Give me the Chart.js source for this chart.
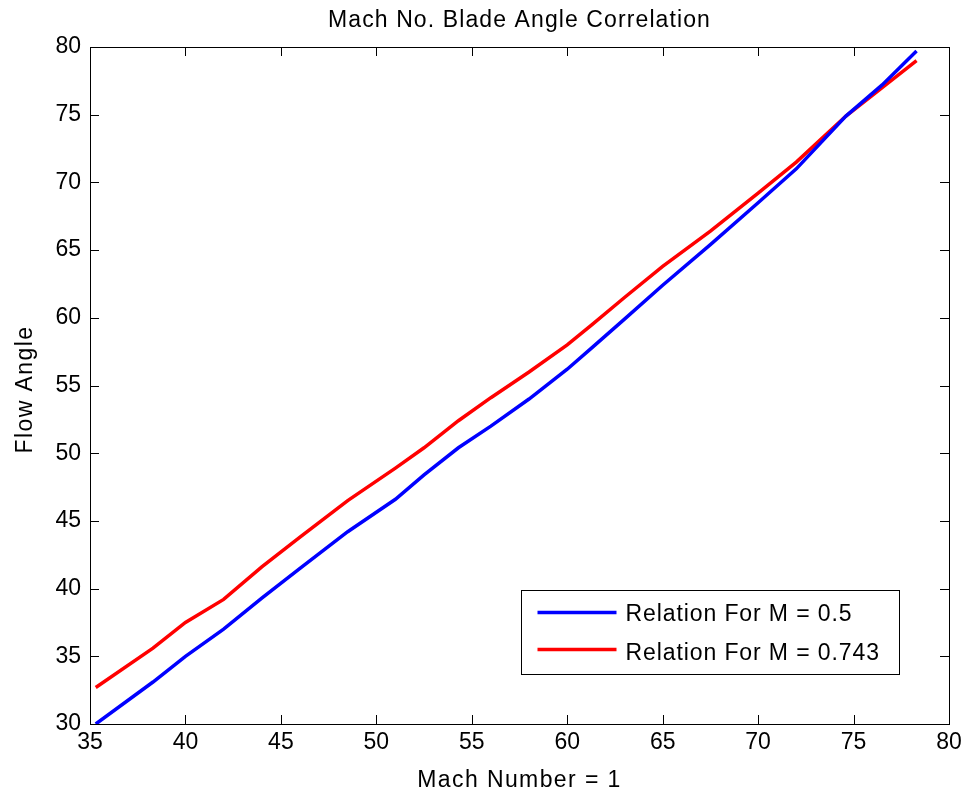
<!DOCTYPE html>
<html>
<head>
<meta charset="utf-8">
<script src="https://cdn.jsdelivr.net/npm/chart.js@4.4.1/dist/chart.umd.min.js"></script>
<style>
  html, body { margin: 0; padding: 0; background: #fff; }
  #wrap { width: 963px; height: 793px; }
</style>
</head>
<body>
<div id="wrap"><canvas id="mycanvas" width="963" height="793"></canvas></div>
<script>
// values
var machX = [35.3, 38.3, 40, 42, 44, 46, 48.5, 51, 52.5, 54.3, 56, 58, 60, 61.3, 63, 65, 67.5, 70, 72, 74.6, 76.5, 78.3];
var angleM05 = [30.0, 33.1, 35.0, 37.0, 39.3, 41.5, 44.2, 46.6, 48.4, 50.4, 52.0, 54.0, 56.2, 57.8, 59.9, 62.4, 65.4, 68.5, 71.0, 74.9, 77.2, 79.7];
var angleM0743 = [32.7, 35.6, 37.5, 39.2, 41.6, 43.8, 46.5, 48.9, 50.4, 52.4, 54.1, 56.0, 58.0, 59.5, 61.5, 63.8, 66.4, 69.2, 71.5, 74.9, 77.0, 79.0];
var xTicks = [35, 40, 45, 50, 55, 60, 65, 70, 75, 80];
var yTicks = [30, 35, 40, 45, 50, 55, 60, 65, 70, 75, 80];

var FONT = "'Liberation Sans', Arial, sans-serif";

function pts(ys) {
  var out = [];
  for (var i = 0; i < machX.length; i++) out.push({x: machX[i], y: ys[i]});
  return out;
}

function spacedText(ctx, txt, x, y, spacing) {
  if ('letterSpacing' in ctx) {
    ctx.letterSpacing = spacing + 'px';
    ctx.fillText(txt, x, y);
    ctx.letterSpacing = '0px';
  } else {
    ctx.fillText(txt, x, y);
  }
}

// box, inner tick marks, titles and legend drawn the matlab way
var matlabLook = {
  id: 'matlabLook',
  afterDatasetsDraw: function(chart) {
    var ctx = chart.ctx, a = chart.chartArea;
    var xs = chart.scales.x, ys = chart.scales.y;
    ctx.save();
    ctx.strokeStyle = '#000';
    ctx.lineWidth = 1;
    ctx.beginPath();
    xTicks.forEach(function(v) {
      var px = Math.round(xs.getPixelForValue(v)) + 0.5;
      ctx.moveTo(px, a.bottom); ctx.lineTo(px, a.bottom - 9);
      ctx.moveTo(px, a.top); ctx.lineTo(px, a.top + 9);
    });
    yTicks.forEach(function(v) {
      var py = Math.round(ys.getPixelForValue(v)) + 0.5;
      ctx.moveTo(a.left, py); ctx.lineTo(a.left + 9, py);
      ctx.moveTo(a.right, py); ctx.lineTo(a.right - 9, py);
    });
    ctx.stroke();
    ctx.strokeRect(Math.round(a.left) + 0.5, Math.round(a.top) + 0.5,
                   Math.round(a.right - a.left), Math.round(a.bottom - a.top));

    ctx.fillStyle = '#000';
    ctx.textAlign = 'center';
    ctx.textBaseline = 'alphabetic';
    ctx.font = '23px ' + FONT;
    // title
    spacedText(ctx, 'Mach No. Blade Angle Correlation', (a.left + a.right) / 2, 27, 1.1);
    // x axis title
    spacedText(ctx, 'Mach Number = 1', (a.left + a.right) / 2, 787, 1.4);
    // y axis title
    ctx.save();
    ctx.translate(32, (a.top + a.bottom) / 2 + 4);
    ctx.rotate(-Math.PI / 2);
    spacedText(ctx, 'Flow Angle', 0, 0, 1.4);
    ctx.restore();

    // legend
    var bx = 521.5, by = 590.5, bw = 378, bh = 84;
    ctx.fillStyle = '#fff';
    ctx.fillRect(bx, by, bw, bh);
    ctx.strokeStyle = '#000';
    ctx.lineWidth = 1;
    ctx.strokeRect(bx, by, bw, bh);
    ctx.textAlign = 'left';
    chart.data.datasets.forEach(function(ds, i) {
      var ly = by + 22 + i * 37;
      ctx.strokeStyle = ds.borderColor;
      ctx.lineWidth = 3.5;
      ctx.beginPath();
      ctx.moveTo(bx + 16, ly); ctx.lineTo(bx + 95, ly);
      ctx.stroke();
      ctx.fillStyle = '#000';
      ctx.font = '23px ' + FONT;
      spacedText(ctx, ds.label, bx + 104, ly + 8 + i * 2, 0.9);
    });
    ctx.restore();
  }
};

var ctx = document.getElementById('mycanvas');
var flowChart = new Chart(ctx, {
  type: 'line',
  data: {
    datasets: [
      { label: 'Relation For M = 0.5', data: pts(angleM05), borderColor: '#0000ff', borderWidth: 3.5, pointRadius: 0, fill: false, tension: 0 },
      { label: 'Relation For M = 0.743', data: pts(angleM0743), borderColor: '#ff0000', borderWidth: 3.5, pointRadius: 0, fill: false, tension: 0 }
    ]
  },
  options: {
    responsive: false,
    animation: false,
    layout: { padding: { top: 47, right: 14, left: 0, bottom: 0 } },
    plugins: { legend: { display: false }, title: { display: false }, tooltip: { enabled: false } },
    scales: {
      x: {
        type: 'linear', min: 35, max: 80,
        afterBuildTicks: function(s) { s.ticks = xTicks.map(function(v) { return {value: v}; }); },
        afterFit: function(s) { s.height = 69; s.paddingLeft = 0; s.paddingRight = 0; },
        grid: { display: false, drawTicks: false },
        border: { display: false },
        ticks: { color: '#000', font: { family: FONT, size: 23 }, padding: 5, maxRotation: 0 }
      },
      y: {
        type: 'linear', min: 30, max: 80,
        afterBuildTicks: function(s) { s.ticks = yTicks.map(function(v) { return {value: v}; }); },
        afterFit: function(s) { s.width = 90; s.paddingTop = 0; s.paddingBottom = 0; },
        grid: { display: false, drawTicks: false },
        border: { display: false },
        ticks: { color: '#000', font: { family: FONT, size: 23 }, padding: 9 }
      }
    }
  },
  plugins: [matlabLook]
});
</script>
</body>
</html>
